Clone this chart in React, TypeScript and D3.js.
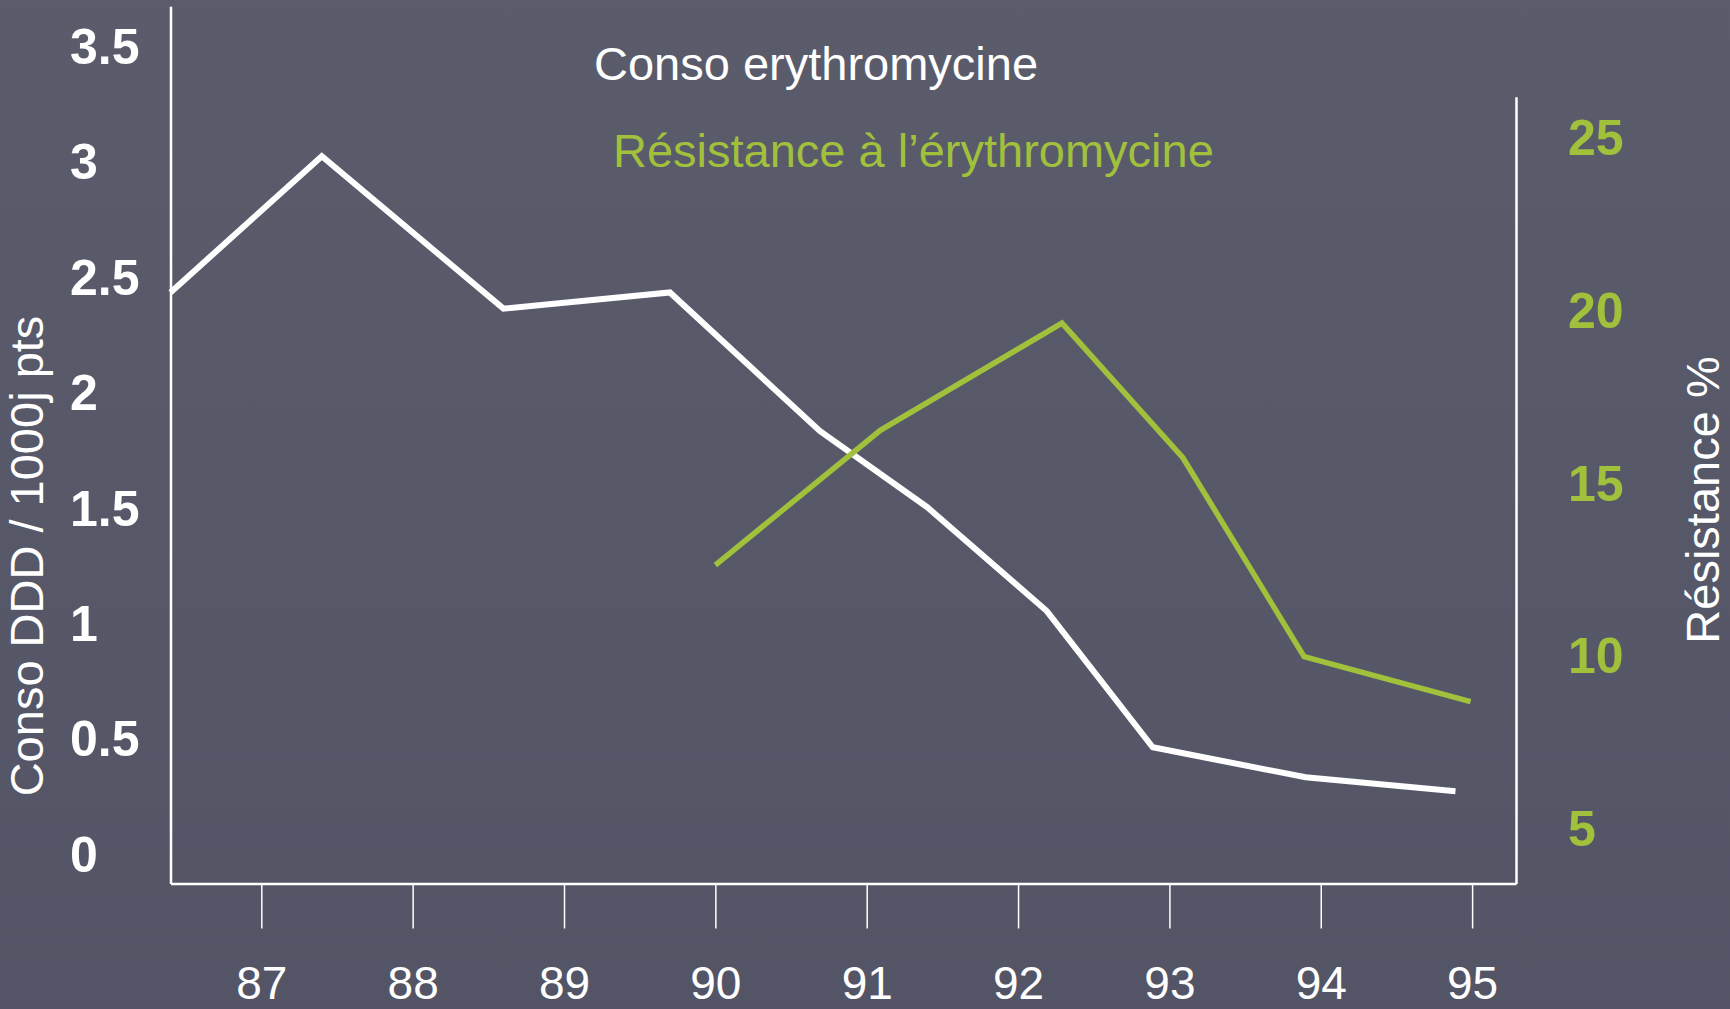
import { useRef, useEffect } from "react";
import * as d3 from "d3";

// decimal year positions and values
const consoYears = [86.4, 87.4, 88.6, 89.7, 90.69, 91.4, 92.19, 92.89, 93.9, 94.89];
const consoValues = [2.43, 3.02, 2.36, 2.43, 1.83, 1.5, 1.05, 0.46, 0.33, 0.27];

const resistYears = [90.0, 91.09, 92.29, 93.09, 93.89, 94.99];
const resistValues = [12.6, 16.5, 19.6, 15.7, 9.95, 8.65];

const yearTicks = [87, 88, 89, 90, 91, 92, 93, 94, 95];
const leftTicks = [0, 0.5, 1, 1.5, 2, 2.5, 3, 3.5];
const rightTicks = [5, 10, 15, 20, 25];

const GREEN = "#a1c03c";
const FONT = "'Liberation Sans', Arial, sans-serif";

const App = () => {
  const svgRef = useRef<SVGSVGElement>(null);

  useEffect(() => {
    const svg = d3.select(svgRef.current);
    svg.selectAll("*").remove();

    const width = 1730;
    const height = 1009;

    svg.attr("width", width).attr("height", height);

    // background
    const defs = svg.append("defs");
    const grad = defs
      .append("linearGradient")
      .attr("id", "bg")
      .attr("x1", 0)
      .attr("y1", 0)
      .attr("x2", 0)
      .attr("y2", 1);
    grad.append("stop").attr("offset", "0%").attr("stop-color", "#5a5c6c");
    grad.append("stop").attr("offset", "100%").attr("stop-color", "#535566");
    svg
      .append("rect")
      .attr("width", width)
      .attr("height", height)
      .attr("fill", "url(#bg)");

    // scales
    const x = d3.scaleLinear().domain([86.4, 95.29]).range([170.5, 1516]);
    const yLeft = d3.scaleLinear().domain([-0.13, 3.67]).range([883.5, 6.2]);
    const yRight = d3.scaleLinear().domain([3.39, 26.15]).range([883.5, 96.7]);

    // x axis
    const gx = svg
      .append("g")
      .attr("transform", `translate(0, ${yLeft(-0.13)})`)
      .call(
        d3
          .axisBottom(x)
          .tickValues(yearTicks)
          .tickSize(45)
          .tickSizeOuter(0)
          .tickFormat((d) => String(d))
      );
    gx.select(".domain").attr("stroke", "#fff").attr("stroke-width", 2.5);
    gx.selectAll(".tick line").attr("stroke", "#fff").attr("stroke-width", 1.5);
    gx.selectAll(".tick text")
      .attr("y", 115)
      .attr("dy", 0)
      .attr("fill", "#fff")
      .style("font-family", FONT)
      .style("font-size", "46px");

    // left axis
    const gl = svg
      .append("g")
      .attr("transform", `translate(${x(86.4)}, 0)`)
      .call(
        d3
          .axisLeft(yLeft)
          .tickValues(leftTicks)
          .tickSize(0)
          .tickSizeOuter(0)
          .tickFormat((d) => String(d))
      );
    gl.select(".domain").attr("stroke", "#fff").attr("stroke-width", 2.5);
    gl.selectAll(".tick text")
      .attr("x", -100.5)
      .attr("dy", "0.358em")
      .attr("text-anchor", "start")
      .attr("fill", "#fff")
      .style("font-family", FONT)
      .style("font-weight", "bold")
      .style("font-size", "50px");

    // right axis
    const gr = svg
      .append("g")
      .attr("transform", `translate(${x(95.29)}, 0)`)
      .call(
        d3
          .axisRight(yRight)
          .tickValues(rightTicks)
          .tickSize(0)
          .tickSizeOuter(0)
          .tickFormat((d) => String(d))
      );
    gr.select(".domain").attr("stroke", "#fff").attr("stroke-width", 2.5);
    gr.selectAll(".tick text")
      .attr("x", 52)
      .attr("dy", "0.358em")
      .attr("text-anchor", "start")
      .attr("fill", GREEN)
      .style("font-family", FONT)
      .style("font-weight", "bold")
      .style("font-size", "50px");

    // axis titles
    svg
      .append("text")
      .attr("transform", `translate(43, 556) rotate(-90)`)
      .attr("text-anchor", "middle")
      .attr("fill", "#fff")
      .style("font-family", FONT)
      .style("font-size", "47px")
      .text("Conso DDD / 1000j pts");

    svg
      .append("text")
      .attr("transform", `translate(1719, 500) rotate(-90)`)
      .attr("text-anchor", "middle")
      .attr("fill", "#fff")
      .style("font-family", FONT)
      .style("font-size", "47px")
      .text("Résistance %");

    // series titles
    svg
      .append("text")
      .attr("x", 594)
      .attr("y", 80)
      .attr("fill", "#fff")
      .style("font-family", FONT)
      .style("font-size", "47px")
      .text("Conso erythromycine");

    svg
      .append("text")
      .attr("x", 613)
      .attr("y", 167)
      .attr("fill", GREEN)
      .style("font-family", FONT)
      .style("font-size", "47px")
      .text("Résistance à l’érythromycine");

    // lines
    const consoData = consoYears.map((yr, i) => ({ yr, v: consoValues[i] }));
    const resistData = resistYears.map((yr, i) => ({ yr, v: resistValues[i] }));

    const lineLeft = d3
      .line<{ yr: number; v: number }>()
      .x((d) => x(d.yr))
      .y((d) => yLeft(d.v));
    const lineRight = d3
      .line<{ yr: number; v: number }>()
      .x((d) => x(d.yr))
      .y((d) => yRight(d.v));

    svg
      .append("path")
      .datum(consoData)
      .attr("d", lineLeft)
      .attr("fill", "none")
      .attr("stroke", "#fff")
      .attr("stroke-width", 6)
      .attr("stroke-linejoin", "miter");

    svg
      .append("path")
      .datum(resistData)
      .attr("d", lineRight)
      .attr("fill", "none")
      .attr("stroke", GREEN)
      .attr("stroke-width", 5.5)
      .attr("stroke-linejoin", "miter");
  }, []);

  return (
    <div style={{ position: "absolute", left: 0, top: 0 }}>
      <svg ref={svgRef} style={{ display: "block" }}></svg>
    </div>
  );
};

export default App;
